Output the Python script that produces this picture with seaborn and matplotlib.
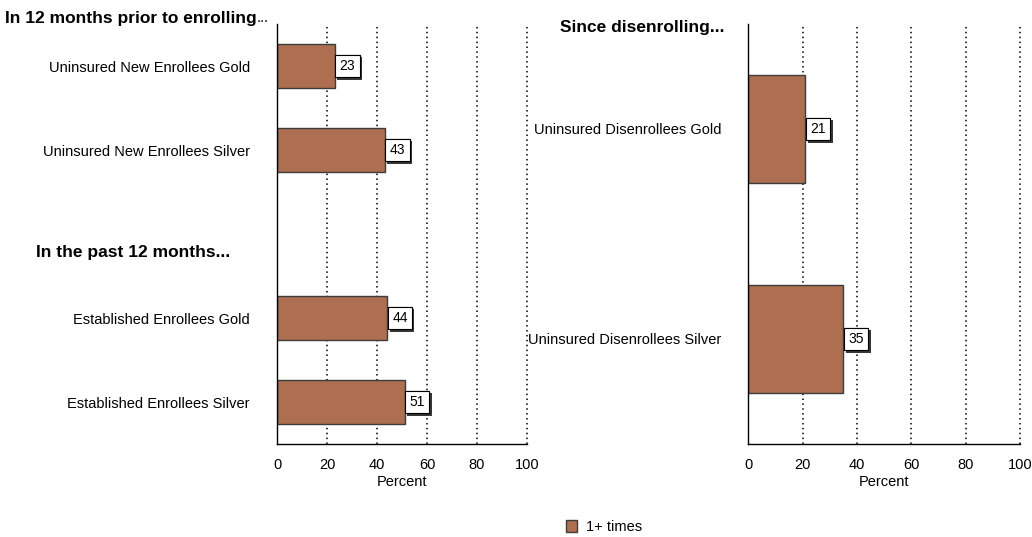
import matplotlib
matplotlib.use("Agg")
import matplotlib.pyplot as plt
import matplotlib.patheffects as pe
from matplotlib.patches import Patch
import seaborn as sns
import pandas as pd

# ---- data ----
left_categories = ["Uninsured New Enrollees Gold", "Uninsured New Enrollees Silver", " ",
                   "Established Enrollees Gold", "Established Enrollees Silver"]
left_values = [23, 43, None, 44, 51]
right_categories = ["Uninsured Disenrollees Gold", "Uninsured Disenrollees Silver"]
right_values = [21, 35]
x_ticks = [0, 20, 40, 60, 80, 100]
series_name = "1+ times"
headings = ["In 12 months prior to enrolling", "In the past 12 months...", "Since disenrolling..."]

BAR = "#AD6F4F"
EDGE = "#3c3c3c"

sns.set_theme(style="white")
plt.rcParams["font.family"] = ["Liberation Sans", "DejaVu Sans"]
plt.rcParams["text.color"] = "black"
plt.rcParams["axes.labelcolor"] = "black"
plt.rcParams["xtick.color"] = "black"
plt.rcParams["ytick.color"] = "black"

fig = plt.figure(figsize=(10.32, 5.37), dpi=100)
axL = fig.add_axes([277/1032, 93/537, 250/1032, 420/537])
axR = fig.add_axes([748.3/1032, 93/537, 271.7/1032, 420/537])

ldf = pd.DataFrame({"cat": [c for c, v in zip(left_categories, left_values) if v is not None],
                    "val": [v for v in left_values if v is not None]})
rdf = pd.DataFrame({"cat": right_categories, "val": right_values})

sns.barplot(data=ldf, y="cat", x="val", order=left_categories, orient="h", ax=axL,
            color=BAR, saturation=1, width=0.52, edgecolor=EDGE, linewidth=1, errorbar=None)
sns.barplot(data=rdf, y="cat", x="val", order=right_categories, orient="h", ax=axR,
            color=BAR, saturation=1, width=0.51, edgecolor=EDGE, linewidth=1, errorbar=None)

LBL_FS = 10
LBL_PAD = 0.32
for ax in (axL, axR):
    ax.set_xlim(0, 100)
    ax.set_xticks(x_ticks)
    ax.set_xticklabels([str(t) for t in x_ticks], fontsize=10.5, color="black")
    ax.set_xlabel("Percent", fontsize=10.5, labelpad=2, color="black")
    ax.set_ylabel("")
    for t in x_ticks[1:]:
        ax.axvline(t, color="black", linestyle=(0, (1, 2.2)), linewidth=1.1, zorder=0,
                   clip_on=False)
    for s in ("top", "right"):
        ax.spines[s].set_visible(False)
    for s in ("left", "bottom"):
        ax.spines[s].set_color("black")
        ax.spines[s].set_linewidth(1)
    ax.tick_params(axis="x", direction="out", length=6, width=1, color="black", pad=4,
                   labelcolor="black")
    ax.tick_params(axis="y", direction="out", length=7, width=1, color="black", pad=12.5,
                   labelsize=10.5, labelcolor="black")
    ax.set_axisbelow(True)
    for p in ax.patches:
        w = p.get_width()
        if not (w == w) or w <= 0:
            continue
        txt = ax.annotate(f"{int(round(w))}", xy=(w, p.get_y() + p.get_height() / 2),
                          xytext=(LBL_PAD * LBL_FS + 0.5, 0), textcoords="offset points",
                          ha="left", va="center", fontsize=LBL_FS, color="black",
                          bbox=dict(boxstyle=f"square,pad={LBL_PAD}", fc="white", ec="black",
                                    lw=0.8),
                          zorder=5)
        txt.get_bbox_patch().set_path_effects(
            [pe.withSimplePatchShadow(offset=(1.6, -1.6), shadow_rgbFace="#222222", alpha=0.9),
             pe.Normal()])

# headings
t1 = fig.text(5/1032, 1 - 18/537, headings[0], fontsize=12.5, fontweight="bold",
              ha="left", va="center", color="black")
axL.annotate("...", xy=(1, 0), xycoords=t1, ha="left", va="bottom", fontsize=10.5,
             color="black", annotation_clip=False)
fig.text(230/1032, 1 - 253/537, headings[1], fontsize=12.5, fontweight="bold",
         ha="right", va="center", color="black")
fig.text(725/1032, 1 - 28/537, headings[2], fontsize=12.5, fontweight="bold",
         ha="right", va="center", color="black")

fig.legend(handles=[Patch(facecolor=BAR, edgecolor=EDGE, linewidth=1, label=series_name)],
           loc="center", bbox_to_anchor=(604/1032, 10/537), frameon=False, fontsize=10.5,
           handlelength=0.8, handleheight=0.8, handletextpad=0.6, labelcolor="black")

fig.savefig("out.png", dpi=100)
